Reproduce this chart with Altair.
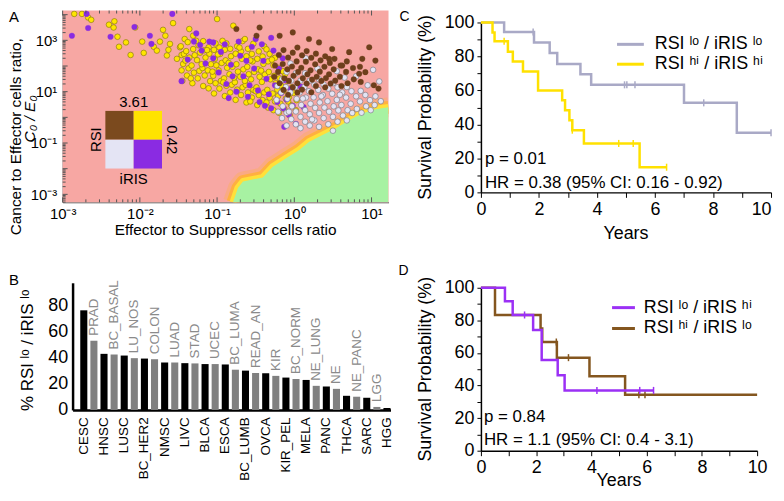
import altair as alt
import numpy as np
import pandas as pd

# ------------------------------------------------------------------ Panel A data (log10 units)
yellow_pts = [
    (-2.85, 4.03), (-2.75, 4.03), (-2.67, 3.89), (-2.63, 3.80), (-2.40, 3.61), (-2.33, 3.74), (-2.34, 3.50),
    (-2.29, 3.14), (-2.27, 2.75), (-2.18, 2.92), (-2.06, 3.50), (-2.12, 2.43), (-1.97, 2.95), (-1.95, 2.51),
    (-1.82, 2.75), (-1.78, 2.60), (-1.74, 2.95), (-1.70, 3.41), (-1.67, 3.18), (-1.65, 2.41), (-1.63, 2.63),
    (-1.57, 3.67), (-1.61, 2.86), (-1.48, 2.73), (-1.42, 3.05), (-1.36, 3.44), (-1.31, 3.18), (-1.52, 2.28),
    (-1.46, 2.43), (-1.00, 3.83), (-0.79, 3.57),
    (-1.45, 1.42), (-1.46, 1.83), (-1.44, 2.08), (-1.43, 2.47), (-1.47, 2.77),
    (-1.39, 1.63), (-1.37, 1.91), (-1.36, 2.33), (-1.40, 2.58), (-1.38, 2.93),
    (-1.32, 1.33), (-1.30, 1.74), (-1.33, 2.02), (-1.29, 2.42), (-1.31, 2.66),
    (-1.25, 1.52), (-1.23, 1.81), (-1.26, 2.23), (-1.22, 2.52), (-1.24, 2.81),
    (-1.18, 1.22), (-1.16, 1.63), (-1.19, 1.92), (-1.15, 2.33), (-1.17, 2.61), (-1.18, 2.97),
    (-1.11, 1.13), (-1.09, 1.41), (-1.12, 1.83), (-1.08, 2.07), (-1.10, 2.48), (-1.11, 2.73),
    (-1.04, 0.93), (-1.02, 1.33), (-1.05, 1.62), (-1.01, 2.03), (-1.03, 2.27), (-1.04, 2.63), (-1.02, 2.88),
    (-0.97, 1.12), (-0.95, 1.42), (-0.98, 1.83), (-0.94, 2.12), (-0.96, 2.47), (-0.97, 2.72),
    (-0.90, 0.83), (-0.88, 1.23), (-0.91, 1.52), (-0.87, 1.93), (-0.89, 2.22), (-0.90, 2.63), (-0.88, 2.88),
    (-0.83, 0.97), (-0.81, 1.27), (-0.84, 1.68), (-0.80, 1.97), (-0.82, 2.38), (-0.83, 2.67),
    (-0.76, 0.68), (-0.74, 1.08), (-0.77, 1.37), (-0.73, 1.78), (-0.75, 2.07), (-0.76, 2.48), (-0.74, 2.77),
    (-0.69, 0.87), (-0.67, 1.17), (-0.70, 1.58), (-0.66, 1.87), (-0.68, 2.28), (-0.69, 2.57), (-0.67, 2.97),
    (-0.62, 0.58), (-0.60, 0.97), (-0.63, 1.27), (-0.59, 1.68), (-0.61, 1.97), (-0.62, 2.38), (-0.60, 2.67),
    (-0.55, 0.77), (-0.53, 1.07), (-0.56, 1.48), (-0.52, 1.77), (-0.54, 2.18), (-0.55, 2.47), (-0.53, 2.87),
    (-0.48, 0.48), (-0.46, 0.87), (-0.49, 1.17), (-0.45, 1.58), (-0.47, 1.87), (-0.48, 2.28), (-0.46, 2.57),
    (-0.41, 0.67), (-0.39, 0.97), (-0.42, 1.38), (-0.38, 1.67), (-0.40, 2.08), (-0.41, 2.37), (-0.39, 2.77),
    (-0.34, 0.38), (-0.32, 0.77), (-0.35, 1.07), (-0.31, 1.48), (-0.33, 1.77), (-0.34, 2.18), (-0.32, 2.47),
    (-0.27, 0.28), (-0.25, 0.62), (-0.28, 0.93), (-0.24, 1.33), (-0.26, 1.62), (-0.27, 2.03), (-0.25, 2.32),
    (-0.20, 0.18), (-0.18, 0.53), (-0.21, 0.83), (-0.17, 1.23), (-0.19, 1.52), (-0.20, 1.93),
    (-0.13, 0.33), (-0.11, 0.73), (-0.14, 1.03), (-0.10, 1.43), (-0.12, 1.68),
    (-0.06, 0.08), (-0.04, 0.47), (-0.07, 0.78), (-0.03, 1.17), (0.02, 0.28), (0.03, 0.67),
    (-1.41, 2.21), (-1.34, 1.52), (-1.27, 2.98), (-1.20, 2.07), (-1.13, 2.62), (-1.06, 1.78), (-0.99, 2.45),
    (-0.92, 1.36), (-0.85, 2.12), (-0.78, 1.55), (-0.71, 2.72), (-0.64, 1.42), (-0.57, 2.22), (-0.50, 1.02),
    (-0.43, 1.82), (-0.36, 0.58), (-0.29, 2.25), (-0.22, 1.08), (-0.15, 1.80), (-0.08, 0.62), (-0.01, 0.95),
    (-0.57, 0.62), (-0.93, 2.98), (-0.64, 3.05), (-0.36, 2.65),
]
purple_pts = [
    (-2.88, 3.18), (-2.69, 4.03), (-2.67, 3.48), (-2.38, 3.14), (-2.07, 3.52), (-1.87, 3.18), (-1.58, 4.03),
    (-1.27, 3.27), (-1.22, 2.82), (-1.05, 2.92), (-1.85, 2.86), (-1.46, 1.41), (-1.20, 2.60), (-1.10, 2.95),
    (-1.05, 2.30), (-0.98, 1.75), (-0.90, 2.85), (-0.88, 1.30), (-0.82, 2.05), (-0.75, 1.00), (-0.70, 2.40),
    (-0.66, 1.60), (-0.60, 0.80), (-0.55, 2.75), (-0.52, 1.90), (-0.47, 1.05), (-0.45, 0.60), (-0.40, 2.20),
    (-0.36, 1.50), (-0.33, 0.90), (-0.30, 0.35), (-0.27, 2.60), (-0.25, 1.25), (-0.22, 0.60), (-0.20, 1.90),
    (-0.17, 0.95), (-0.14, 0.35), (-0.12, 1.45), (-0.10, 0.70), (-0.07, 0.10), (-0.05, 1.10), (-0.02, 0.45),
    (0.02, -0.25), (-0.58, 1.25), (-0.80, 1.60), (-1.15, 2.10), (-0.95, 2.55), (-0.62, 2.20), (-0.42, 2.85),
    (-0.72, 2.95), (-0.30, 3.10), (-0.50, 3.05), (-0.15, 2.30), (0.08, 1.20), (0.12, 0.40), (-0.13, -0.37),
    (-1.30, 2.95), (-1.38, 2.25), (-0.85, 0.75), (-0.38, 0.45),
]
brown_pts = [
    (-0.75, 3.44), (-0.45, 3.50), (-0.49, 3.18), (-0.19, 3.18), (-0.02, 3.31), (0.19, 3.05), (0.32, 2.92),
    (0.49, 2.66), (0.71, 2.54), (0.97, 2.73), (0.88, 2.28), (1.05, 2.21), (0.84, 1.70), (1.03, 1.25),
    (0.92, 1.76), (1.09, 1.12), (0.45, 2.28), (0.62, 2.02),
    (-0.25, 2.02), (-0.26, 1.58), (-0.20, 2.43), (-0.21, 1.77), (-0.19, 1.33),
    (-0.14, 2.62), (-0.15, 2.08), (-0.13, 1.52), (-0.14, 1.07),
    (-0.08, 2.33), (-0.09, 1.87), (-0.07, 1.42), (-0.08, 0.88),
    (-0.02, 2.52), (-0.03, 1.98), (-0.01, 1.62), (-0.02, 1.17),
    (0.04, 2.72), (0.03, 2.18), (0.05, 1.77), (0.04, 1.33), (0.04, 0.97),
    (0.10, 2.42), (0.09, 1.93), (0.11, 1.52), (0.10, 1.08),
    (0.16, 2.58), (0.15, 2.17), (0.17, 1.68), (0.16, 1.32),
    (0.22, 2.32), (0.21, 1.83), (0.23, 1.47), (0.22, 0.98),
    (0.28, 2.48), (0.27, 2.07), (0.29, 1.58), (0.28, 1.22),
    (0.34, 2.22), (0.33, 1.78), (0.35, 1.42),
    (0.40, 2.38), (0.39, 1.97), (0.41, 1.53), (0.40, 1.17),
    (0.46, 2.12), (0.45, 1.68), (0.47, 1.32),
    (0.52, 2.28), (0.51, 1.87), (0.53, 1.43),
    (0.60, 2.02), (0.59, 1.58), (0.61, 1.22),
    (0.68, 2.18), (0.67, 1.77), (0.69, 1.33),
    (0.76, 1.92), (0.77, 1.48), (0.85, 1.97), (0.86, 1.38),
]
white_pts = [
    (-0.22, 1.22), (-0.23, 0.68), (-0.21, 0.22),
    (-0.16, 1.48), (-0.17, 0.97), (-0.15, 0.43), (-0.16, -0.03),
    (-0.10, 1.77), (-0.11, 1.18), (-0.09, 0.72), (-0.10, 0.18), (-0.10, -0.32),
    (-0.04, 1.43), (-0.05, 0.97), (-0.03, 0.43), (-0.04, -0.07),
    (0.02, 1.72), (0.01, 1.18), (0.03, 0.72), (0.02, 0.23), (0.02, -0.27),
    (0.08, 1.43), (0.07, 0.97), (0.09, 0.48), (0.08, 0.02), (0.08, -0.42),
    (0.14, 1.72), (0.13, 1.18), (0.15, 0.77), (0.14, 0.28), (0.14, -0.17),
    (0.20, 1.43), (0.19, 1.02), (0.21, 0.53), (0.20, 0.12), (0.20, -0.32),
    (0.26, 1.27), (0.25, 0.78), (0.27, 0.37), (0.26, -0.12),
    (0.32, 1.48), (0.31, 1.07), (0.33, 0.58), (0.32, 0.17), (0.32, -0.37),
    (0.38, 1.28), (0.37, 0.87), (0.39, 0.38), (0.38, -0.03),
    (0.44, 1.12), (0.43, 0.63), (0.45, 0.22), (0.44, -0.27),
    (0.50, 1.33), (0.49, 0.92), (0.51, 0.43), (0.50, 0.02), (0.50, -0.52),
    (0.56, 1.17), (0.55, 0.68), (0.57, 0.27), (0.56, -0.17),
    (0.62, 0.97), (0.61, 0.48), (0.63, 0.07),
    (0.68, 1.18), (0.67, 0.77), (0.69, 0.28), (0.68, -0.12),
    (0.74, 1.02), (0.73, 0.53), (0.75, 0.17),
    (0.80, 0.82), (0.81, 0.33), (0.86, 1.03), (0.85, 0.62), (0.87, 0.18),
    (0.92, 0.87), (0.93, 0.43), (0.98, 0.67), (0.99, 0.28), (1.05, 0.82), (1.04, 0.48), (1.12, 0.63),
    (0.30, 1.90), (0.55, 1.80), (0.80, 1.60), (1.10, 1.40), (1.02, 1.85), (-0.05, 2.10), (0.15, 2.30),
    (0.65, 1.55), (0.95, 1.25), (0.11, 0.73), (0.35, 0.82), (0.59, 0.88), (-0.07, 0.22), (0.23, -0.08),
]
# boundary of the green (controlled) region, log10 units
bound_lx = [-0.794, -0.73, -0.665, -0.408, -0.279, -0.107, 0.064, 0.193, 0.365, 0.536, 0.708, 0.88, 1.05, 1.22]
bound_ly = [-3.31, -2.75, -2.50, -2.34, -1.92, -1.59, -1.27, -0.95, -0.69, -0.43, -0.11, 0.15, 0.32, 0.39]

# ------------------------------------------------------------------ Panel B data
b_cats = ["CESC", "PRAD", "HNSC", "BC_BASAL", "LUSC", "LU_NOS", "BC_HER2", "COLON", "NMSC", "LUAD",
          "LIVC", "STAD", "BLCA", "UCEC", "ESCA", "BC_LUMA", "BC_LUMB", "READ_AN", "OVCA", "KIR",
          "KIR_PEL", "BC_NORM", "MELA", "NE_LUNG", "PANC", "NE", "THCA", "NE_PANC", "SARC", "LGG", "HGG"]
b_vals = [76, 52.8, 42.8, 42.3, 41.5, 39.5, 39.2, 38.7, 36.2, 36.2,
          35.7, 35.5, 35.0, 35.0, 34.7, 30.7, 30.0, 28.2, 28.0, 26.0,
          24.7, 23.6, 22.9, 18.4, 17.9, 16.1, 10.8, 10.1, 9.3, 2.3, 1.5]
b_shade = ["k", "g", "k", "g", "k", "g", "k", "g", "k", "g",
           "k", "g", "k", "g", "k", "g", "k", "g", "k", "g",
           "k", "g", "k", "g", "k", "g", "k", "g", "k", "g", "k"]

# ------------------------------------------------------------------ Panel C data
c_lo_t = [0, 0.80, 1.83, 2.37, 2.63, 3.43, 3.80, 7.00, 8.82]
c_lo_s = [100, 94.4, 88.2, 82.0, 75.6, 69.5, 63.3, 52.7, 35.1]
c_lo_end = 10.0
c_lo_cens_t = [1.80, 4.95, 5.03, 5.31, 7.68, 10.0]
c_lo_cens_s = [94.4, 63.3, 63.3, 63.3, 52.7, 35.1]
c_hi_t = [0, 0.40, 0.47, 0.93, 1.10, 1.45, 1.97, 2.80, 2.90, 3.05, 3.15, 3.55, 5.47]
c_hi_s = [100, 94.1, 88.9, 82.8, 77.0, 71.2, 60.0, 54.2, 48.3, 42.5, 36.6, 28.8, 14.8]
c_hi_end = 6.40
c_hi_cens_t = [0.80, 3.15, 4.75, 5.25, 6.40]
c_hi_cens_s = [88.9, 36.6, 28.8, 28.8, 14.8]

# ------------------------------------------------------------------ Panel D data
d_pu_t = [0, 0.87, 1.15, 1.89, 2.20, 2.78, 3.03]
d_pu_s = [100, 91.7, 83.3, 74.1, 55.6, 46.3, 37.0]
d_pu_end = 6.25
d_pu_cens_t = [1.58, 4.20, 5.75, 6.25]
d_pu_cens_s = [83.3, 37.0, 37.0, 37.0]
d_br_t = [0, 0.51, 2.16, 2.22, 2.75, 3.93, 5.22]
d_br_s = [100, 83.3, 75.0, 66.7, 57.1, 45.7, 34.3]
d_br_end = 10.0
d_br_cens_t = [2.73, 3.17, 5.72, 5.94]
d_br_cens_s = [66.7, 57.1, 34.3, 34.3]

# ------------------------------------------------------------------ colours
PINK = "#F7A7A3"
GREEN = "#A7F2A2"
C_YEL = "#FFE500"
C_PUR = "#8A2BE2"
C_BRN = "#6E3F1C"
C_WHT = "#E4E4F4"
K_GREY = "#A9A9C6"
K_YEL = "#FFE100"
K_PUR = "#9B30F5"
K_BRN = "#84561F"


def tx(s, x, y, size=15, **kw):
    return alt.Chart(pd.DataFrame({"t": [s]})).mark_text(fontSize=size, **kw).encode(
        text="t:N", x=alt.value(x), y=alt.value(y))


def hrule(x1, x2, y, color, w):
    return alt.Chart(pd.DataFrame({"a": [0]})).mark_rule(color=color, strokeWidth=w).encode(
        x=alt.value(x1), x2=alt.value(x2), y=alt.value(y))


def rect(x1, x2, y1, y2, color):
    return alt.Chart(pd.DataFrame({"a": [0]})).mark_rect(color=color).encode(
        x=alt.value(x1), x2=alt.value(x2), y=alt.value(y1), y2=alt.value(y2))


def sup_expr(d):
    return " : ".join(f"datum.value == {k} ? '{v}'" for k, v in d.items()) + " : ''"


# ================================================================== Panel A  (view origin = page 62, 8)
AW, AH = 328, 193
XD = [-3.0, 1.22]
YD = [-3.31, 4.16]
xsA = alt.Scale(domain=XD, nice=False, zero=False)
ysA = alt.Scale(domain=YD, nice=False, zero=False)
axXA = alt.Axis(values=[-3, -2, -1, 0, 1],
                labelExpr=sup_expr({-3: "10⁻³", -2: "10⁻²", -1: "10⁻¹", 0: "10⁰", 1: "10¹"}),
                ticks=False, grid=False, domainColor="#555", labelFontSize=15, labelPadding=4,
                title=None, labelColor="black", labelFlush=False)
axYA = alt.Axis(values=[-3, -1, 1, 3],
                labelExpr=sup_expr({-3: "10⁻³", -1: "10⁻¹", 1: "10¹", 3: "10³"}),
                ticks=False, grid=False, domainColor="#555", labelFontSize=15, labelPadding=6,
                title=None, labelColor="black", labelFlush=False)


def XA(f):
    return alt.X(f, type="quantitative", scale=xsA, axis=axXA)


def YA(f):
    return alt.Y(f, type="quantitative", scale=ysA, axis=axYA)


bgA = alt.Chart(pd.DataFrame({"x": [XD[0]], "x2": [XD[1]], "y": [YD[0]], "y2": [YD[1]]})).mark_rect(
    color=PINK).encode(x=XA("x"), x2="x2", y=YA("y"), y2="y2")

dfb = pd.DataFrame({"lx": bound_lx, "ly": bound_ly, "base": YD[0]})
band0 = alt.Chart(dfb).mark_line(color="#FFB347", strokeWidth=20, opacity=0.35, clip=True,
                                 strokeJoin="round").encode(x=XA("lx"), y=YA("ly"))
band1 = alt.Chart(dfb).mark_line(color="#FFB040", strokeWidth=13, clip=True,
                                 strokeJoin="round").encode(x=XA("lx"), y=YA("ly"))
band2 = alt.Chart(dfb).mark_line(color="#FFE03A", strokeWidth=7, clip=True,
                                 strokeJoin="round").encode(x=XA("lx"), y=YA("ly"))
greenA = alt.Chart(dfb).mark_area(color=GREEN, clip=True).encode(x=XA("lx"), y=YA("ly"), y2="base")


def pts(lst, fill, stroke, sw):
    df = pd.DataFrame(lst, columns=["lx", "ly"])
    return alt.Chart(df).mark_point(shape="circle", filled=True, fill=fill, stroke=stroke,
                                    strokeWidth=sw, size=32, opacity=1, clip=True).encode(
        x=XA("lx"), y=YA("ly"))


ptsY = pts(yellow_pts, C_YEL, "#7d6f10", 0.6)
ptsP = pts(purple_pts, C_PUR, C_PUR, 0.3)
ptsW = pts(white_pts, C_WHT, "#6f6f78", 0.6)
ptsB = pts(brown_pts, C_BRN, C_BRN, 0.3)

xt_major = [-3, -2, -1, 0, 1]
xt_minor = [d + np.log10(k) for d in range(-3, 2) for k in range(2, 10) if d + np.log10(k) <= XD[1]]
yt_major = [-3, -2, -1, 0, 1, 2, 3, 4]
yt_minor = [d + np.log10(k) for d in range(-4, 5) for k in range(2, 10)
            if YD[0] <= d + np.log10(k) <= YD[1]]


def xticks(vals, ln):
    df = pd.DataFrame({"v": vals})
    bot = alt.Chart(df).mark_rule(color="#555", strokeWidth=1).encode(
        x=XA("v"), y=alt.value(AH), y2=alt.value(AH - ln))
    top = alt.Chart(df).mark_rule(color="#555", strokeWidth=1).encode(
        x=XA("v"), y=alt.value(0), y2=alt.value(ln))
    return [bot, top]


def yticks(vals, ln):
    df = pd.DataFrame({"v": vals})
    return [alt.Chart(df).mark_rule(color="#555", strokeWidth=1).encode(
        y=YA("v"), x=alt.value(0), x2=alt.value(ln))]


tickLayers = xticks(xt_major, 5) + xticks(xt_minor, 3) + yticks(yt_major, 5) + yticks(yt_minor, 3)

legA = [
    rect(43, 71.5, 101, 130, "#7B4A1E"), rect(71.5, 100, 101, 130, "#FFE300"),
    rect(43, 71.5, 130, 159, C_WHT), rect(71.5, 100, 130, 159, C_PUR),
    tx("3.61", 71.5, 97, 15, baseline="alphabetic"),
    tx("RSI", 34, 130, 15, angle=270),
    tx("0.42", 110, 130, 15, angle=90),
    tx("iRIS", 71.5, 163, 15, baseline="top"),
]
txtA = [
    tx("A", -54, 0, 15, align="left", baseline="top"),
    tx("Cancer to Effector cells ratio,", -54, 127, 15.5, angle=270, baseline="top"),
    tx("C₀ / E₀", -40, 109, 15.5, angle=270, baseline="top", fontStyle="italic"),
    tx("Effector to Suppressor cells ratio", AW / 2, 214, 15.5, baseline="top"),
]

panelA = alt.layer(bgA, band0, band1, band2, greenA, ptsY, ptsP, ptsW, ptsB,
                   *tickLayers, *legA, *txtA).properties(width=AW, height=AH)

# ================================================================== Panel B  (view origin = page 62, 282)
BW, BH = 330, 128
dfB = pd.DataFrame({"cat": b_cats, "val": b_vals, "shade": b_shade})
black_names = [c for c, s in zip(b_cats, b_shade) if s == "k"]
lab_expr = "indexof([" + ",".join(f"'{c}'" for c in black_names) + "], datum.value) >= 0 ? datum.value : ''"
xB = alt.X("cat:N", sort=b_cats,
           scale=alt.Scale(range=[10, BW], paddingInner=0.3, paddingOuter=0.38, align=1),
           axis=alt.Axis(labelAngle=-90, labelExpr=lab_expr, ticks=False, domainColor="black",
                         domainWidth=2.5, labelFontSize=13.5, labelPadding=7, title=None,
                         labelColor="black", labelOverlap=False, labelBound=False))
yB = alt.Y("val:Q", scale=alt.Scale(domain=[0, 97], nice=False),
           axis=alt.Axis(values=[0, 20, 40, 60, 80], ticks=False, grid=False, domainColor="black",
                         domainWidth=2.5, labelFontSize=18, labelPadding=5, title=None,
                         labelColor="black", offset=-10))
barsB = alt.Chart(dfB).mark_bar().encode(
    x=xB, y=yB,
    color=alt.Color("shade:N", scale=alt.Scale(domain=["k", "g"], range=["#000000", "#808080"]),
                    legend=None))
glabB = alt.Chart(dfB).transform_filter("datum.shade == 'g'").mark_text(
    angle=270, align="left", baseline="middle", dx=5, color="#8a8a8a", fontSize=13.5).encode(
    x=xB, y=yB, text="cat:N")
txtB = [
    tx("B", -54, -10, 15, align="left", baseline="top"),
    tx("% RSI ˡᵒ / iRIS ˡᵒ", -35, 68, 17, angle=270),
]
panelB = alt.layer(barsB, glabB, *txtB).properties(width=BW, height=BH)


# ================================================================== Panels C, D
def km_axes(h, top, flush_end):
    xe = alt.X("t:Q", scale=alt.Scale(domain=[0, 10], nice=False),
               axis=alt.Axis(values=list(range(11)), labelExpr="datum.value % 2 == 0 ? datum.label : ''",
                             tickSize=5, tickColor="black", domainColor="black", domainWidth=1.5,
                             labelFontSize=18, labelPadding=3, grid=False, title=None,
                             labelColor="black", labelFlush=False,
                             labelAlign=(alt.condition("datum.value == 10", alt.value("right"),
                                                       alt.value("center")) if flush_end else "center")))
    ye = alt.Y("s:Q", scale=alt.Scale(domain=[0, 100], nice=False, range=[h, top]),
               axis=alt.Axis(values=list(range(0, 101, 10)),
                             labelExpr="datum.value % 20 == 0 ? datum.label : ''",
                             tickSize=4, tickColor="black", domainColor="black", domainWidth=1.5,
                             labelFontSize=18, labelPadding=3, grid=False, title=None,
                             labelColor="black", labelFlush=False))
    return xe, ye


def km(times, surv, end, ct, cs, color, xe, ye):
    df = pd.DataFrame({"t": times + [end], "s": surv + [surv[-1]]})
    line = alt.Chart(df).mark_line(interpolate="step-after", color=color, strokeWidth=2.5).encode(x=xe, y=ye)
    cdf = pd.DataFrame({"t": ct, "s": cs})
    cens = alt.Chart(cdf).mark_point(shape="M0,-1L0,1", size=50, color=color, strokeWidth=1.5,
                                     opacity=1).encode(x=xe, y=ye)
    return [line, cens]


# C: view origin page (483, 8); plot top at 12 inside the view
CW, CH = 292, 183
xC, yC = km_axes(CH, 12, True)
layC = km(c_lo_t, c_lo_s, c_lo_end, c_lo_cens_t, c_lo_cens_s, K_GREY, xC, yC) + \
    km(c_hi_t, c_hi_s, c_hi_end, c_hi_cens_t, c_hi_cens_s, K_YEL, xC, yC)
txtC = [
    tx("C", -82, 0, 14, align="left", baseline="top"),
    tx("Survival Probability (%)", -55, 97.5, 18, angle=270),
    tx("Years", CW / 2, 216, 18, baseline="top"),
    tx("p = 0.01", 4, 149, 17, align="left"),
    tx("HR = 0.38 (95% CI: 0.16 - 0.92)", 4, 174, 17, align="left"),
    hrule(137, 164, 34, K_GREY, 3), tx("RSI ˡᵒ / iRIS ˡᵒ", 175, 34, 18, align="left"),
    hrule(137, 164, 54, K_YEL, 3), tx("RSI ʰⁱ / iRIS ʰⁱ", 175, 54, 18, align="left"),
]
panelC = alt.layer(*layC, *txtC).properties(width=CW, height=CH)

# D: view origin page (483, 282); plot top at 5 inside the view
DW, DH = 278, 169
xD, yD = km_axes(DH, 5, False)
layD = km(d_br_t, d_br_s, d_br_end, d_br_cens_t, d_br_cens_s, K_BRN, xD, yD) + \
    km(d_pu_t, d_pu_s, d_pu_end, d_pu_cens_t, d_pu_cens_s, K_PUR, xD, yD)
txtD = [
    tx("D", -83, -19, 14, align="left", baseline="top"),
    tx("Survival Probability (%)", -55, 87, 18, angle=270),
    tx("Years", DW / 2, 191, 18, baseline="top"),
    tx("p = 0.84", 3, 135, 17, align="left"),
    tx("HR = 1.1 (95% CI: 0.4 - 3.1)", 3, 158, 17, align="left"),
    hrule(132, 155, 25, K_PUR, 3), tx("RSI ˡᵒ / iRIS ʰⁱ", 164, 25, 18, align="left"),
    hrule(132, 155, 46, K_BRN, 3), tx("RSI ʰⁱ / iRIS ˡᵒ", 164, 46, 18, align="left"),
]
panelD = alt.layer(*layD, *txtD).properties(width=DW, height=DH)

chart = alt.concat(panelA, panelC, panelB, panelD, columns=2, bounds="flush",
                   spacing={"row": 81, "column": 91}).properties(padding=0).configure(
    font="Liberation Sans").configure_view(stroke=None)

chart.save("out.html", embed_options={"renderer": "svg", "actions": False})
